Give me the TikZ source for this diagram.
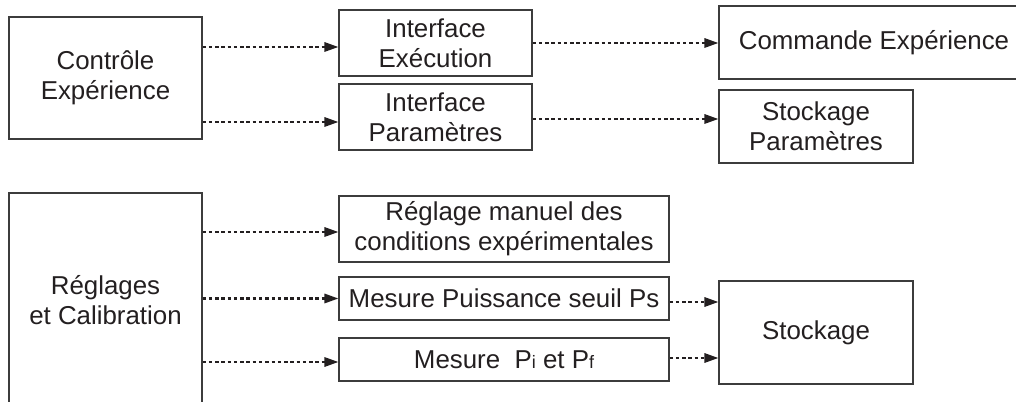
\documentclass[tikz,border=0pt]{standalone}
\usepackage{fontspec}
\setmainfont{Liberation Sans}
\usetikzlibrary{arrows.meta}
\definecolor{encre}{RGB}{35,31,32}
\definecolor{trait}{RGB}{60,60,60}

\begin{document}
\begin{tikzpicture}[x=0.75pt,y=0.75pt,yscale=-1,xscale=1,
  boite/.style={draw=trait, line width=0.9pt, inner sep=0pt, align=center, text=encre,
    font=\fontsize{19.4}{22.5}\selectfont},
  fleche/.style={draw=encre, line width=1.6pt, dash pattern=on 2.6pt off 2.1pt,
    -{Triangle[length=10.5pt,width=7pt]}}]
\useasboundingbox (0,0) rectangle (1016,402);
\clip (0,0) rectangle (1016,402);

%Shape: Rectangle
\node [boite, minimum width=144.75pt, minimum height=91.5pt] (ctrl) at (105.5,78) {Contrôle\\Expérience};
\node [boite, minimum width=144.75pt, minimum height=49.5pt] (iexec) at (435.5,43) {Interface\\Exécution};
\node [boite, minimum width=144.75pt, minimum height=49.5pt] (ipar) at (435.5,117) {Interface\\Paramètres};
\node [boite, minimum width=232.5pt, minimum height=54.75pt] (cmd) at (874,42.5) {Commande Expérience};
\node [boite, minimum width=145.5pt, minimum height=54.75pt] (spar) at (816,126.5) {Stockage\\Paramètres};

%Shape: Rectangle
\node [boite, minimum width=144.75pt, minimum height=160.5pt] (regl) at (105.5,300) {Réglages\\et Calibration};
\node [boite, minimum width=247.5pt, minimum height=49.5pt] (rman) at (504,229) {Réglage manuel des\\conditions expérimentales};
\node [boite, minimum width=247.5pt, minimum height=32.25pt] (mpuis) at (504,298.5) {Mesure Puissance seuil Ps};
\node [boite, minimum width=247.5pt, minimum height=32.25pt] (mpipf) at (504,359.5) {Mesure\ \ P{\fontsize{13.5}{13.5}\selectfont i} et P{\fontsize{13.5}{13.5}\selectfont f}};
\node [boite, minimum width=145.5pt, minimum height=77.25pt] (stock) at (816,332.5) {Stockage};

%Straight Lines
\draw [fleche] (ctrl.east |- 0,47) -- (iexec.west |- 0,47);
\draw [fleche] (ctrl.east |- 0,122) -- (ipar.west |- 0,122);
\draw [fleche] (iexec.east) -- (cmd.west |- iexec.east);
\draw [fleche] (ipar.east |- 0,119) -- (spar.west |- 0,119);

%Straight Lines
\draw [fleche] (regl.east |- 0,232) -- (rman.west |- 0,232);
\draw [fleche] (regl.east |- mpuis.west) -- (mpuis.west);
\draw [fleche] (regl.east |- 0,362) -- (mpipf.west |- 0,362);
\draw [fleche] (mpuis.east |- 0,302) -- (stock.west |- 0,302);
\draw [fleche] (mpipf.east |- 0,358) -- (stock.west |- 0,358);

\end{tikzpicture}
\end{document}
